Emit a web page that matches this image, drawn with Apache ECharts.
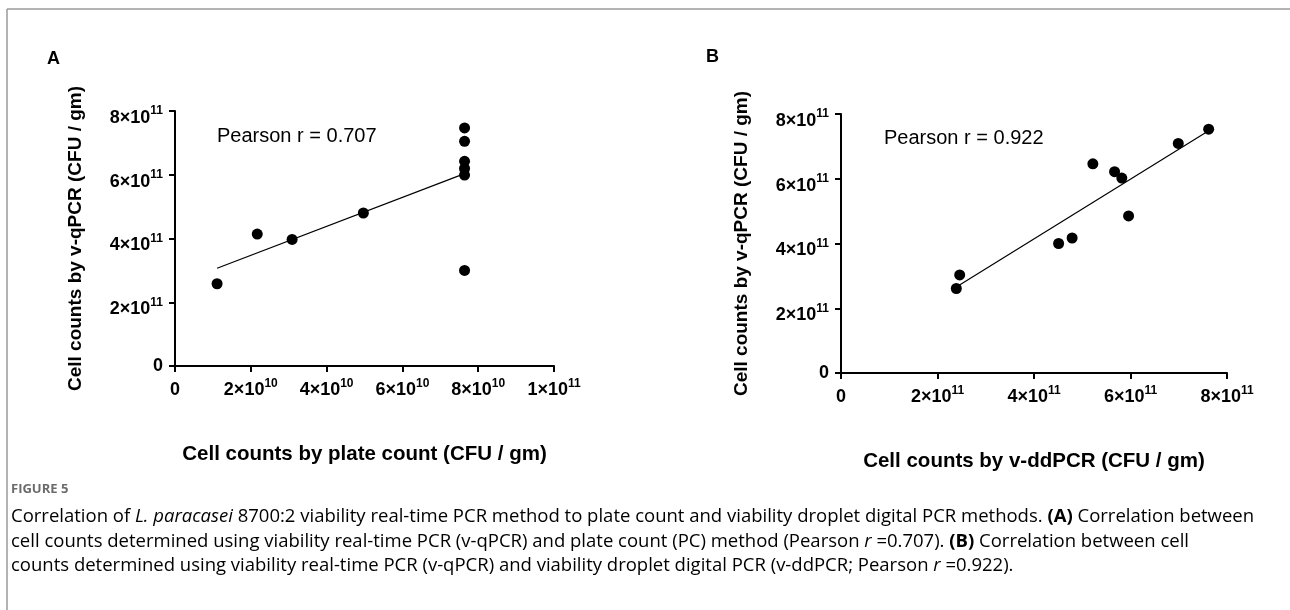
<!DOCTYPE html>
<html><head><meta charset="utf-8">
<script src="https://cdn.jsdelivr.net/npm/echarts@6/dist/echarts.min.js"></script>
<style>html,body{margin:0;padding:0;background:#fff}#c{width:1290px;height:610px}</style>
</head><body><div id="c"></div>
<script>
// ---- data ----
const plateCountA = [1.11e10, 2.17e10, 3.09e10, 4.97e10, 7.64e10, 7.64e10, 7.64e10, 7.64e10, 7.64e10, 7.64e10];
const qpcrA       = [2.58e11, 4.14e11, 3.97e11, 4.80e11, 7.47e11, 7.05e11, 6.42e11, 6.20e11, 5.99e11, 3.00e11];
const ddpcrB      = [2.39e11, 2.46e11, 4.51e11, 4.79e11, 5.22e11, 5.67e11, 5.82e11, 5.96e11, 6.99e11, 7.62e11];
const qpcrB       = [2.61e11, 3.03e11, 4.00e11, 4.17e11, 6.46e11, 6.22e11, 6.02e11, 4.85e11, 7.09e11, 7.53e11];
const xTicksA = [0, 2e10, 4e10, 6e10, 8e10, 1e11];
const xTicksB = [0, 2e11, 4e11, 6e11, 8e11];
const yTicks  = [0, 2e11, 4e11, 6e11, 8e11];
const panelLabels = ['A', 'B'];
const pearsonTexts = ['Pearson r = 0.707', 'Pearson r = 0.922'];
const xNames = ['Cell counts by plate count (CFU / gm)', 'Cell counts by v-ddPCR (CFU / gm)'];
const yName = 'Cell counts by v-qPCR (CFU / gm)';

const FONT = 'Liberation Sans, Arial, Helvetica, sans-serif';

function fitLine(xs, ys) {
  const n = xs.length;
  const mx = xs.reduce((a, b) => a + b, 0) / n, my = ys.reduce((a, b) => a + b, 0) / n;
  let sxy = 0, sxx = 0;
  for (let i = 0; i < n; i++) { sxy += (xs[i] - mx) * (ys[i] - my); sxx += (xs[i] - mx) ** 2; }
  const k = sxy / sxx, b = my - k * mx;
  const x0 = Math.min(...xs), x1 = Math.max(...xs);
  return [[x0, k * x0 + b], [x1, k * x1 + b]];
}
function pairs(xs, ys) { return xs.map((x, i) => [x, ys[i]]); }

function sciParts(v) {
  const e = Math.floor(Math.log10(v) + 1e-9);
  const m = Math.round(v / Math.pow(10, e));
  return [m, e];
}
function xFmt(v) {
  if (v === 0) return '{b|0}';
  const [m, e] = sciParts(v);
  return '{b|' + m + '×10}{s|' + e + '}';
}
function yFmt(v) {
  if (v === 0) return '{b0|0}';
  const [m, e] = sciParts(v);
  return '{b|' + m + '×10}{s|' + e + '}';
}
const baseTok = { fontSize: 18, fontWeight: 'bold', fontFamily: FONT, color: '#000', verticalAlign: 'top' };
const supTok  = { fontSize: 12, fontWeight: 'bold', fontFamily: FONT, color: '#000', verticalAlign: 'top' };
const richX = {
  b: Object.assign({}, baseTok, { padding: [3, 0, 0, 0] }),
  s: Object.assign({}, supTok)
};
const richY = {
  b0: { fontSize: 18, fontWeight: 'bold', fontFamily: FONT, color: '#000' },
  b:  Object.assign({}, baseTok, { padding: [14, 0, 0, 0] }),
  s:  Object.assign({}, supTok, { padding: [10, 0, 0, 0] })
};

const axisCommon = {
  axisLine: { show: true, onZero: false, lineStyle: { color: '#000', width: 2 } },
  axisTick: { show: true, inside: false, length: 6, lineStyle: { color: '#000', width: 2 } },
  splitLine: { show: false },
  nameLocation: 'middle',
  nameTextStyle: { fontFamily: FONT, fontWeight: 'bold', color: '#000' }
};

function xAxisFor(gi, ticks) {
  return Object.assign({}, axisCommon, {
    type: 'value', gridIndex: gi, min: ticks[0], max: ticks[ticks.length - 1],
    interval: ticks[1] - ticks[0],
    name: xNames[gi], nameGap: 78,
    nameTextStyle: Object.assign({}, axisCommon.nameTextStyle, { fontSize: 20.5 }),
    axisLabel: { margin: 12, formatter: xFmt, rich: richX, showMinLabel: true, showMaxLabel: true, hideOverlap: false }
  });
}
function yAxisFor(gi) {
  return Object.assign({}, axisCommon, {
    type: 'value', gridIndex: gi, min: yTicks[0], max: yTicks[yTicks.length - 1],
    interval: yTicks[1] - yTicks[0],
    name: yName, nameGap: 90,
    nameTextStyle: Object.assign({}, axisCommon.nameTextStyle, { fontSize: 19 }),
    axisLabel: { margin: 12, formatter: yFmt, rich: richY, showMinLabel: true, showMaxLabel: true, hideOverlap: false }
  });
}

const dotStyle = { color: '#000', opacity: 1 };
const chart = echarts.init(document.getElementById('c'), null, { renderer: 'canvas' });

const capBase = { fontFamily: 'Open Sans, Lato, sans-serif', fontSize: 18.5, color: '#6b6b6b' };
const capRich = {
  n: capBase,
  i: Object.assign({}, capBase, { fontStyle: 'italic' }),
  bd: Object.assign({}, capBase, { fontWeight: 'bold', color: '#4a4a4a' })
};
const captionLines = [
  '{n|Correlation of }{i|L. paracasei}{n| 8700:2 viability real-time PCR method to plate count and viability droplet digital PCR methods. }{bd|(A)}{n| Correlation between}',
  '{n|cell counts determined using viability real-time PCR (v-qPCR) and plate count (PC) method (Pearson }{i|r}{n| =0.707). }{bd|(B)}{n| Correlation between cell}',
  '{n|counts determined using viability real-time PCR (v-qPCR) and viability droplet digital PCR (v-ddPCR; Pearson }{i|r}{n| =0.922).}'
];
const captionY = [517, 542, 566];

chart.setOption({
  animation: false,
  backgroundColor: '#fff',
  grid: [
    { left: 175, top: 111, width: 379, height: 255, outerBoundsMode: 'none', containLabel: false },
    { left: 841, top: 114, width: 386, height: 259, outerBoundsMode: 'none', containLabel: false }
  ],
  xAxis: [xAxisFor(0, xTicksA), xAxisFor(1, xTicksB)],
  yAxis: [yAxisFor(0), yAxisFor(1)],
  series: [
    { type: 'line', xAxisIndex: 0, yAxisIndex: 0, data: fitLine(plateCountA, qpcrA), showSymbol: false, symbol: 'none',
      lineStyle: { color: '#000', width: 1.2 }, z: 2 },
    { type: 'scatter', xAxisIndex: 0, yAxisIndex: 0, data: pairs(plateCountA, qpcrA), symbol: 'circle', symbolSize: 11, itemStyle: dotStyle, z: 3 },
    { type: 'line', xAxisIndex: 1, yAxisIndex: 1, data: fitLine(ddpcrB, qpcrB), showSymbol: false, symbol: 'none',
      lineStyle: { color: '#000', width: 1.2 }, z: 2 },
    { type: 'scatter', xAxisIndex: 1, yAxisIndex: 1, data: pairs(ddpcrB, qpcrB), symbol: 'circle', symbolSize: 11, itemStyle: dotStyle, z: 3 }
  ],
  graphic: [
    { type: 'line', shape: { x1: 7, y1: 9, x2: 1290, y2: 9 }, style: { stroke: '#9a9a9a', lineWidth: 1.5 } },
    { type: 'line', shape: { x1: 7, y1: 9, x2: 7, y2: 610 }, style: { stroke: '#9a9a9a', lineWidth: 1.5 } },
    { type: 'text', x: 47, y: 59, style: { text: panelLabels[0], font: 'bold 18px ' + FONT, fill: '#000', verticalAlign: 'middle' } },
    { type: 'text', x: 706, y: 57, style: { text: panelLabels[1], font: 'bold 18px ' + FONT, fill: '#000', verticalAlign: 'middle' } },
    { type: 'text', x: 217, y: 136, style: { text: pearsonTexts[0], font: '20px ' + FONT, fill: '#000', verticalAlign: 'middle' } },
    { type: 'text', x: 884, y: 138, style: { text: pearsonTexts[1], font: '20px ' + FONT, fill: '#000', verticalAlign: 'middle' } },
    { type: 'text', x: 11, y: 489, style: { text: 'FIGURE 5', font: 'bold 13px Open Sans, sans-serif', fill: '#6b6b6b', verticalAlign: 'middle' } },
    ...captionLines.map((t, i) => ({ type: 'text', x: 11, y: captionY[i], style: { text: t, rich: capRich, verticalAlign: 'middle' } }))
  ]
});
</script>
</body></html>
